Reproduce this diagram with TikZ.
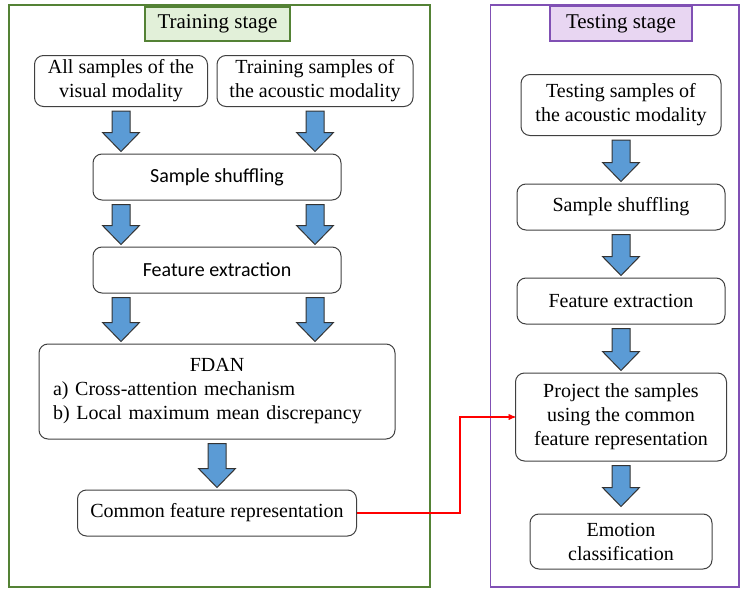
\documentclass[tikz,border=0pt]{standalone}
\usepackage{fontspec}
\setmainfont{Liberation Serif}
\setsansfont{Carlito}
\usepackage{tikz}
\usetikzlibrary{arrows,shapes}
\usetikzlibrary{positioning,calc}
\definecolor{frgreen}{RGB}{84,130,53}
\definecolor{lgreen}{RGB}{226,240,217}
\definecolor{frpurple}{RGB}{128,80,180}
\definecolor{lpurple}{RGB}{232,214,242}
\definecolor{arrblue}{RGB}{91,155,213}
\definecolor{boxgray}{RGB}{64,64,64}
\tikzstyle{box} = [draw=boxgray, rounded corners=9pt, line width=1pt,
    align=center, inner sep=2pt, font=\rmfamily\fontsize{20}{24}\selectfont]
\tikzstyle{sbox} = [box, font=\sffamily\fontsize{20}{24}\selectfont]
\tikzstyle{stage} = [draw, line width=1.2pt, font=\rmfamily\fontsize{21}{24}\selectfont]
\tikzstyle{fatarrow} = [fill=arrblue, draw=black!80, line width=1pt,
    line join=miter]
\newcommand{\fatarrow}[2]{%
  \draw[fatarrow] let \p1=(#1), \p2=(#2) in
    (\x1-9pt,\y1-4pt) -- (\x1+9pt,\y1-4pt) -- (\x1+9pt,\y2+21pt)
    -- (\x1+18.5pt,\y2+21pt) -- (\x1,\y2+2pt) -- (\x1-18.5pt,\y2+21pt)
    -- (\x1-9pt,\y2+21pt) -- cycle;}

\begin{document}
\begin{tikzpicture}[x=1pt, y=-1pt, node distance=93pt]
  \useasboundingbox (0,0) rectangle (740,589);
  % Frames
  \draw[frgreen, line width=1.2pt] (9,5) rectangle (430,587);
  \draw[frpurple, line width=1.2pt] (490.5,5) rectangle (739,587);
  \node[stage, draw=frgreen, fill=lgreen, minimum width=145pt, minimum height=34pt]
    (trainlbl) at (217.5,24) {Training stage};
  \node[stage, draw=frpurple, fill=lpurple, minimum width=142pt, minimum height=35pt]
    (testlbl) at (621,23.5) {Testing stage};

  % Training stage
  \node[box, minimum width=173pt, minimum height=51pt] (vis) at (121,81)
    {All samples of the\\visual modality};
  \node[box, minimum width=196pt, minimum height=51pt] (aco) at (315,81)
    {Training samples of\\the acoustic modality};
  \node[sbox, minimum width=248pt, minimum height=46pt] (shuf) at (217,177)
    {Sample shuffling};
  \node[sbox, minimum width=248pt, minimum height=46pt, below of=shuf] (feat)
    {Feature extraction};
  \node[box, minimum width=356pt, minimum height=95pt, text width=328pt,
    inner xsep=14pt, align=left, below of=feat, node distance=121.5pt] (fdan)
    {\makebox[\linewidth]{FDAN}\\a) Cross-attention mechanism\\b) Local maximum mean discrepancy};
  \node[box, minimum width=279pt, minimum height=46pt, below of=fdan,
    node distance=121.5pt] (common) {Common feature representation};

  \fatarrow{vis.south}{vis.south |- shuf.north}
  \fatarrow{aco.south}{aco.south |- shuf.north}
  \fatarrow{vis.south |- shuf.south}{vis.south |- feat.north}
  \fatarrow{aco.south |- shuf.south}{aco.south |- feat.north}
  \fatarrow{vis.south |- feat.south}{vis.south |- fdan.north}
  \fatarrow{aco.south |- feat.south}{aco.south |- fdan.north}
  \fatarrow{common.north |- fdan.south}{common.north}

  % Testing stage
  \node[box, minimum width=200pt, minimum height=61pt] (tsam) at (621,105)
    {Testing samples of\\the acoustic modality};
  \node[box, minimum width=208pt, minimum height=46pt, below of=tsam,
    node distance=102pt] (tshuf) {Sample shuffling};
  \node[box, minimum width=208pt, minimum height=46pt, below of=tshuf,
    node distance=94pt] (tfeat) {Feature extraction};
  \node[box, minimum width=211pt, minimum height=88pt, below of=tfeat,
    node distance=116pt] (proj)
    {Project the samples\\using the common\\feature representation};
  \node[box, minimum width=182pt, minimum height=55pt, below of=proj,
    node distance=124.5pt] (emo) {Emotion\\classification};

  \fatarrow{tsam.south}{tshuf.north}
  \fatarrow{tshuf.south}{tfeat.north}
  \fatarrow{tfeat.south}{proj.north}
  \fatarrow{proj.south}{[yshift=5pt]emo.north}

  % Link between stages
  \coordinate (bend) at (460,513);
  \draw[red, line width=1.3pt, -stealth'] (common.east) -- (bend) |- (proj.west);
\end{tikzpicture}
\end{document}
